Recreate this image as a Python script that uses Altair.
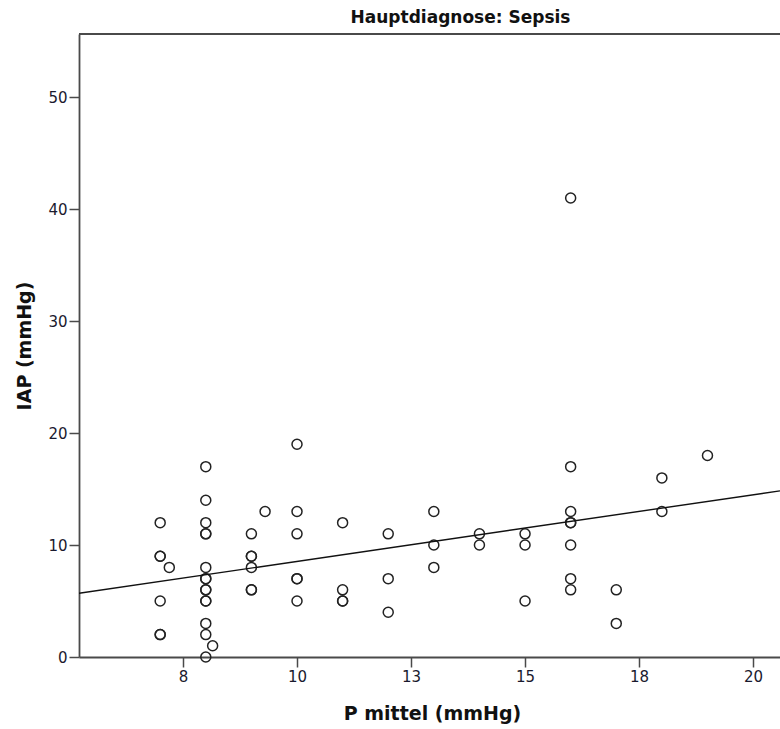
import altair as alt
import pandas as pd

# P mittel (mmHg) values and IAP (mmHg) values
p_mittel = [7, 7, 7, 7, 7, 7,
            7.2,
            8, 8, 8, 8, 8, 8, 8, 8, 8, 8, 8, 8, 8, 8, 8,
            8.15,
            9, 9, 9, 9, 9, 9,
            9.3,
            10, 10, 10, 10, 10, 10,
            11, 11, 11, 11,
            12, 12, 12,
            13, 13, 13,
            14, 14,
            15, 15, 15,
            16, 16, 16, 16, 16, 16, 16, 16,
            17, 17,
            18, 18,
            19]
iap = [12, 9, 9, 5, 2, 2,
       8,
       17, 14, 12, 11, 11, 8, 7, 7, 6, 6, 5, 5, 3, 2, 0,
       1,
       11, 9, 9, 8, 6, 6,
       13,
       19, 13, 11, 7, 7, 5,
       12, 6, 5, 5,
       11, 7, 4,
       13, 10, 8,
       11, 10,
       11, 10, 5,
       41, 17, 13, 12, 12, 10, 7, 6,
       6, 3,
       16, 13,
       18]

x_ticks = [7.5, 10, 12.5, 15, 17.5, 20]
y_ticks = [0, 10, 20, 30, 40, 50]

df = pd.DataFrame({"p": p_mittel, "iap": iap})

XMIN, XMAX = 5.22, 20.59
YMIN, YMAX = 0, 55.65
FONT = "DejaVu Sans"
AXC = "#4a4a4a"

xscale = alt.Scale(domain=[XMIN, XMAX], nice=False, zero=False)
yscale = alt.Scale(domain=[YMIN, YMAX], nice=False)

xenc = alt.X("p:Q", scale=xscale,
             axis=alt.Axis(values=x_ticks, format="d", title="P mittel (mmHg)",
                           titleX=353, titleY=56, titleBaseline="middle",
                           titleAnchor="start", titleAlign="center"))
yenc = alt.Y("iap:Q", scale=yscale,
             axis=alt.Axis(values=y_ticks, title="IAP (mmHg)", titleX=-55,
                           titleBaseline="middle"))

points = alt.Chart(df).mark_point(shape="circle", filled=False, color="#222222",
                                  size=100, strokeWidth=1.5, opacity=1).encode(x=xenc, y=yenc)

line = alt.Chart(df).transform_regression("p", "iap", extent=[XMIN, XMAX]).mark_line(
    color="#111111", strokeWidth=1.4, clip=True).encode(
    x=alt.X("p:Q", scale=xscale), y=alt.Y("iap:Q", scale=yscale))

# top frame line of the plot area
frame_top = alt.Chart(df).mark_rule(color=AXC, strokeWidth=1.8).encode(
    x=alt.datum(XMIN, scale=xscale), x2=alt.datum(XMAX), y=alt.datum(YMAX, scale=yscale))

chart = (points + line + frame_top).properties(
    width=701, height=623,
    padding={"left": 79, "top": 34, "right": 0, "bottom": 72},
    autosize=alt.AutoSizeParams(type="none"),
    title=alt.TitleParams("Hauptdiagnose: Sepsis", font=FONT, fontSize=17, fontWeight="bold",
                          color="#111111", anchor="middle", dx=31, offset=6),
).configure_view(stroke=None).configure_axis(
    grid=False, domainColor=AXC, domainWidth=1.8, tickColor=AXC,
    tickWidth=1.5, tickSize=10, labelFont=FONT, labelFontSize=15, labelColor="#1a1a2e",
    titleFont=FONT, titleFontSize=19, titleFontWeight="bold", titleColor="#111111",
    labelPadding=2,
)

chart.save("out.html", embed_options={"renderer": "svg", "actions": False})
